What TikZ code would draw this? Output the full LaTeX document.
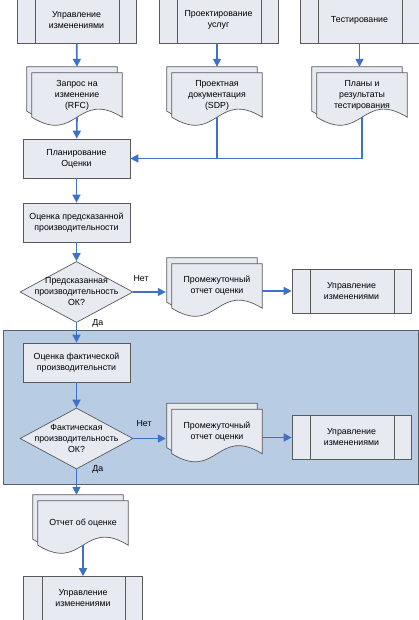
\documentclass[tikz,border=0pt]{standalone}
\usepackage{fontspec}
\setmainfont{Liberation Sans}
\usetikzlibrary{arrows.meta, calc, shapes.geometric, backgrounds}

\definecolor{boxfill}{HTML}{E8EAF2}
\definecolor{linegray}{HTML}{5A5A5A}
\definecolor{flowblue}{HTML}{3D72C6}
\definecolor{panelfill}{HTML}{B8CCE4}
\definecolor{panelline}{HTML}{56606E}

\newcommand\docsheets[1]{%
  \begin{scope}[on background layer]
    \path[sheet] ($(#1.north west)+(-5,-6)$) -- ($(#1.north east)+(-5,-6)$) -- ($(#1.south east)+(-5,-6)$)
      .. controls ($(#1.south)+(-5,-34)$) and ($(#1.south)+(-5,22)$) .. ($(#1.south west)+(-5,-6)$) -- cycle;
    \path[sheet] (#1.north west) -- (#1.north east) -- (#1.south east)
      .. controls ($(#1.south)+(0,-28)$) and ($(#1.south)+(0,28)$) .. (#1.south west) -- cycle;
  \end{scope}}

\begin{document}
\begin{tikzpicture}[x=1pt, y=-1pt, font=\fontsize{8.8}{11}\selectfont,
    proc/.style={draw=linegray, line width=0.7pt, fill=boxfill, minimum width=107pt, minimum height=39pt, inner sep=1pt, align=center},
    subproc/.style={proc, minimum width=119pt, minimum height=44pt,
      path picture={
        \draw[linegray, line width=0.7pt] ([xshift=18.5pt]path picture bounding box.north west) -- ([xshift=18.5pt]path picture bounding box.south west);
        \draw[linegray, line width=0.7pt] ([xshift=-17pt]path picture bounding box.north east) -- ([xshift=-17pt]path picture bounding box.south east);}},
    decision/.style={diamond, draw=linegray, line width=0.7pt, fill=boxfill, minimum width=113pt, minimum height=61pt, inner sep=0pt},
    doc/.style={minimum width=90pt, minimum height=44pt, inner sep=0pt, align=center},
    sheet/.style={draw=linegray, line width=0.7pt, fill=boxfill},
    flow/.style={draw=flowblue, line width=1.6pt, -{Triangle[length=8pt, width=8pt]}},
    link/.style={draw=flowblue, line width=1.6pt},
    answer/.style={inner sep=1pt}]
    \useasboundingbox (0,0) rectangle (419,620);
    \begin{scope}[on background layer]
        \draw[panelline, line width=1pt, fill=panelfill] (3,330) rectangle (418,484);
    \end{scope}

    \node[subproc, minimum height=46pt] at (76.5, 20) (top1) {Управление\\изменениями};
    \node[subproc, minimum height=46pt] at (218.5, 20) (top2) {Проектирование\\услуг};
    \node[subproc, minimum height=46pt] at (359.5, 20) (top3) {Тестирование};

    \node[doc] at (77, 95) (rfc) {Запрос на\\изменение\\(RFC)};
    \node[doc] at (217, 95) (sdp) {Проектная\\документация\\(SDP)};
    \node[doc] at (362, 95) (tests) {Планы и\\результаты\\тестирования};
    \docsheets{rfc}
    \docsheets{sdp}
    \docsheets{tests}

    \node[proc] at (76.5, 158.5) (plan) {Планирование\\Оценки};
    \node[proc] at (76.5, 222.5) (pred) {Оценка предсказанной\\производительности};
    \node[decision] at (76.5, 292) (q1) {};
    \node[align=center, inner sep=0pt] at (q1) (q1text) {Предсказанная\\производительность\\ОК?};
    \node[doc] at (217, 286) (rep1) {Промежуточный\\отчет оценки};
    \docsheets{rep1}
    \node[subproc] at (351.5, 291) (cm1) {Управление\\изменениями};

    \node[proc] at (76.5, 362.5) (fact) {Оценка фактической\\производительнсти};
    \node[decision] at (76.5, 438.5) (q2) {};
    \node[align=center, inner sep=0pt] at (q2) (q2text) {Фактическая\\производительность\\ОК?};
    \node[doc] at (217, 431.5) (rep2) {Промежуточный\\отчет оценки};
    \docsheets{rep2}
    \node[subproc] at (351.5, 437.5) (cm2) {Управление\\изменениями};

    \node[doc] at (83, 523) (final) {Отчет об оценке};
    \docsheets{final}
    \node[subproc] at (83, 598.5) (cm3) {Управление\\изменениями};

    \draw[flow, shorten >=6pt] (top1) -- (rfc.north);
    \draw[flow, shorten >=6pt] (top2.south -| sdp.north) -- (sdp.north);
    \draw[flow, shorten >=6pt] (top3) -- (top3 |- tests.north);
    \draw[flow] (rfc.south) -- (plan);
    \draw[link] (sdp.south) -- (sdp.south |- plan.east);
    \draw[flow] (tests.south) |- (plan.east);
    \draw[flow] (plan) -- (pred);
    \draw[flow] (pred) -- (q1);
    \draw[flow, shorten >=6pt] (q1.east) -- node[answer, pos=0.2, above=8.5pt] (no1) {Нет} (q1.east -| rep1.west);
    \draw[flow] (rep1.east |- cm1.west) -- (cm1.west);
    \draw[flow] (q1.south) -- node[answer, at start, right=14pt] (yes1) {Да} (fact);
    \draw[flow] (fact) -- (q2);
    \draw[flow, shorten >=6pt] (q2.east) -- node[answer, pos=0.28, above=10pt] (no2) {Нет} (q2.east -| rep2.west);
    \draw[flow] (rep2.east |- cm2.west) -- (cm2.west);
    \draw[flow, shorten >=6pt] (q2.south) -- node[answer, at start, right=14pt] (yes2) {Да} (q2.south |- final.north);
    \draw[flow] (final.south) -- (cm3);
\end{tikzpicture}
\end{document}
